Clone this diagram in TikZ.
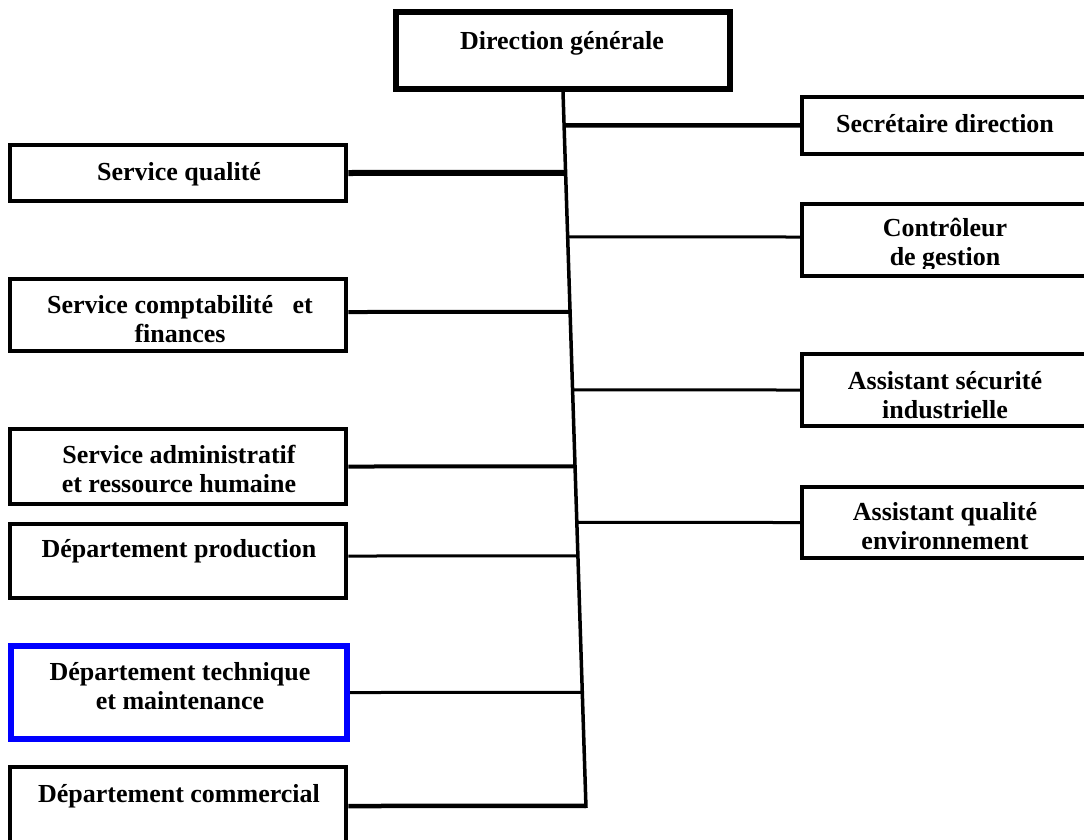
\documentclass[tikz,border=0pt]{standalone}
\usepackage{fontspec}
\setmainfont{Liberation Serif}

% two centred lines whose baseline is the first line's baseline
\newcommand\twol[2]{\begin{tabular}[t]{@{}c@{}}#1\\#2\end{tabular}}

% horizontal branch from a box anchor to the slanted spine
\newcommand\orgbranch[2][]{%
  \coordinate (bra) at (#2);
  \coordinate (brb) at ([xshift=10pt]bra);
  \draw[#1] (bra) -- (intersection of dg.south--spineb and bra--brb);}

\begin{document}
\begin{tikzpicture}[x=1pt,y=-1pt,
  box/.style={draw=black, line width=4.5pt, inner sep=0pt},
  bluebox/.style={draw=blue, line width=6pt, inner sep=0pt},
  lbl/.style={anchor=base, inner sep=0pt, text=black,
    font=\fontsize{26pt}{29.5pt}\selectfont\bfseries},
  link/.style={draw=black, line width=#1},
  link/.default=3pt]
\useasboundingbox (0,0) rectangle (1084,840);
\clip (0,0) rectangle (1084,840);

% top box
\node[box, line width=5.5pt, minimum width=334pt, minimum height=77pt] (dg) at (563,50.5) {};
\node[lbl] (dg-t) at (562,50) {Direction générale};

% right column
\node[box, minimum width=289pt, minimum height=57pt] (sec)  at (946.5,125.5) {};
\node[box, minimum width=289pt, minimum height=72pt] (ctrl) at (946.5,240) {};
\node[box, minimum width=289pt, minimum height=72pt] (asi)  at (946.5,390) {};
\node[box, minimum width=289pt, minimum height=71pt] (aqe)  at (946.5,522.5) {};

\node[lbl] (sec-t) at (945,132) {Secrétaire direction};
\begin{scope}
  \clip (802,204) rectangle (1091,268);
  \node[lbl] (ctrl-t) at (945,236) {\twol{Contrôleur}{de gestion}};
\end{scope}
\node[lbl] (asi-t) at (945,389) {\twol{Assistant sécurité}{industrielle}};
\node[lbl] (aqe-t) at (945,520) {\twol{Assistant qualité}{environnement}};

% left column
\node[box, minimum width=336pt, minimum height=56pt] (sq)  at (178,173) {};
\node[box, minimum width=336pt, minimum height=72pt] (scf) at (178,315) {};
\node[box, minimum width=336pt, minimum height=75pt] (sar) at (178,466.5) {};
\node[box, minimum width=336pt, minimum height=74pt] (dp)  at (178,561) {};
\node[bluebox, minimum width=336pt, minimum height=93pt] (dtm) at (179,692.5) {};
\node[box, minimum width=336pt, minimum height=78pt] (dc)  at (178,806) {};

\node[lbl] (sq-t)  at (179,180) {Service qualité};
\node[lbl] (scf-t) at (180,313) {\twol{Service comptabilité\ \ \ et}{finances}};
\node[lbl] (sar-t) at (179,463) {\twol{Service administratif}{et ressource humaine}};
\node[lbl] (dp-t)  at (179,557) {Département production};
\node[lbl] (dtm-t) at (180,680) {\twol{Département technique}{et maintenance}};
\node[lbl] (dc-t)  at (179,802) {Département commercial};

% spine
\coordinate (spineb) at (586,808);
\draw[link=3.5pt] (dg.south) -- (spineb);

% branches
\orgbranch[link=4.5pt]{sec.west}
\orgbranch[link=6pt]{sq.east}
\orgbranch[link=3pt]{[yshift=3pt]ctrl.west}
\orgbranch[link=4pt]{[yshift=3pt]scf.east}
\orgbranch[link=3pt]{asi.west}
\orgbranch[link=4pt]{sar.east}
\orgbranch[link=3pt]{aqe.west}
\orgbranch[link=3pt]{[yshift=5pt]dp.east}
\orgbranch[link=3pt]{dtm.east}
\orgbranch[link=4.5pt]{dc.east}
\end{tikzpicture}
\end{document}
